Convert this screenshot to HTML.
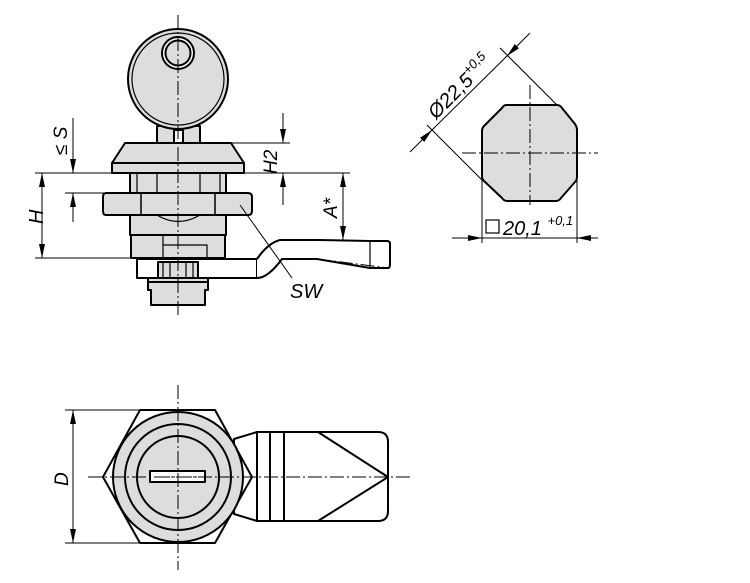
<!DOCTYPE html>
<html><head><meta charset="utf-8"><style>
html,body{margin:0;padding:0;background:#fff;width:750px;height:583px;overflow:hidden}
text{font-family:"Liberation Sans",sans-serif;font-style:italic;fill:#000}
</style></head><body>
<svg width="750" height="583" viewBox="0 0 750 583" xmlns="http://www.w3.org/2000/svg">
<defs>
<marker id="a" viewBox="0 0 14 6" refX="14" refY="3" markerWidth="14" markerHeight="6" orient="auto-start-reverse" markerUnits="userSpaceOnUse"><path d="M0,0L14,3L0,6z" fill="#000"/></marker>
</defs>
<g stroke="#000" stroke-width="2" fill="#ddd" stroke-linejoin="round">
<path d="M157,126 L157,143 L200,143 L200,126 Z"/>
<circle cx="178" cy="79" r="50"/>
<circle cx="178" cy="79" r="46" fill="none" stroke-width="1.2"/>
<circle cx="178" cy="53" r="16" fill="#fff"/>
<circle cx="178" cy="53" r="12.5"/>
<rect x="174" y="130" width="9" height="13" fill="#fff"/>
<path d="M125,143 L231,143 L244,163 L112,163 Z"/>
<rect x="112" y="163" width="132" height="10"/>
<rect x="130" y="173" width="96" height="22"/>
<path d="M137,173V195M157,173V195M200,173V195M220,173V195" fill="none" stroke-width="1.2"/>
<path d="M137,259H257V278H137Z" fill="#fff"/>
<path d="M257,278 Q268,278 282,259 L317,259 L370,268 L388,268 Q390,268 390,264 L390,244 Q390,241 387,241 L370,241 L320,240 L280,240 Q268,243 257,259" fill="#fff"/>
<path d="M370,241V268" fill="none" stroke-width="1.2"/>
<rect x="130" y="215" width="96" height="20"/>
<path d="M157,215 Q178,228 200,215" fill="none" stroke-width="1.2"/>
<rect x="131" y="235" width="94" height="23"/>
<path d="M163,235V258M163,245H207V258" fill="none" stroke-width="1.2"/>
<path d="M106,193H248Q252,193 252,197V211Q252,215 248,215H106Q103,215 103,211V197Q103,193 106,193Z"/>
<path d="M141,193V215M215,193V215" fill="none" stroke-width="1.5"/>
<rect x="148" y="278" width="60" height="4"/>
<rect x="158" y="262" width="40" height="16"/>
<path d="M163,262V278M170,262V278M186,262V278M193,262V278" fill="none" stroke-width="1.2"/>
<path d="M148,282H208V290H205V305H151V290H148Z"/>
<path d="M506,105H557Q560,105 562,108L575,124Q577,127 577,130V177Q577,180 575,182L561,198Q559,201 556,201H507Q504,201 502,198L484,181Q482,179 482,176V131Q482,128 484,126L502,108Q504,105 506,105Z"/>
<path d="M234,439L257,432V521L234,514Z" fill="#fff"/>
<path d="M257,432H378Q388,432 388,442V511Q388,521 378,521H257Z" fill="#fff"/>
<path d="M270,432V521M284,432V521M318,432L388,477L318,521" fill="none"/>
<path d="M103,477L140,410H215L252,477L215,543H140Z" fill="#fff"/>
<circle cx="178" cy="477" r="65"/>
<circle cx="178" cy="477" r="53" fill="none"/>
<circle cx="178" cy="477" r="41" fill="none"/>
<rect x="150" y="471" width="55" height="11" fill="#fff"/>
</g>
<g stroke="#000" stroke-width="1" fill="none" stroke-dasharray="14,3,2,3">
<path d="M178,15V318"/>
<path d="M530,85V205M462,153H598"/>
<path d="M178,385V570M88,477H412"/>
<path d="M320,240L388,241M317,259L388,268"/>
<path d="M156,477H200"/>
</g>
<g stroke="#000" stroke-width="1" fill="none">
<path d="M35,173H350M35,258H130M65,193H130M230,143H290"/>
<path d="M42,173V258" marker-start="url(#a)" marker-end="url(#a)"/>
<path d="M73,118V173" marker-end="url(#a)"/>
<path d="M73,222V193" marker-end="url(#a)"/>
<path d="M283,113V143" marker-end="url(#a)"/>
<path d="M283,205V173" marker-end="url(#a)"/>
<path d="M343,173V240" marker-start="url(#a)" marker-end="url(#a)"/>
<path d="M240,205L292,278"/>
<path d="M427,125L482,180M500,48L557,105"/>
<path d="M410,152L432,130" marker-end="url(#a)"/>
<path d="M530,33L507,56" marker-end="url(#a)"/>
<path d="M432,130L507,56"/>
<path d="M482,180V243M577,180V243"/>
<path d="M452,238H482" marker-end="url(#a)"/>
<path d="M598,238H577" marker-end="url(#a)"/>
<path d="M482,238H577"/>
<path d="M65,410H140M65,543H140"/>
<path d="M73,410V543" marker-start="url(#a)" marker-end="url(#a)"/>
</g>
<text transform="translate(43,224) rotate(-90)" font-size="20">H</text>
<text transform="translate(67,155) rotate(-90)" font-size="19">≤ S</text>
<text transform="translate(277,174) rotate(-90)" font-size="19">H2</text>
<text transform="translate(337,218) rotate(-90)" font-size="19">A*</text>
<text x="290" y="298" font-size="20">SW</text>
<text transform="translate(436,120) rotate(-45)" font-size="20">Ø22,5<tspan font-size="13" dy="-9">+0,5</tspan></text>
<text x="503" y="235" font-size="20">20,1 <tspan font-size="13" dy="-10">+0,1</tspan></text>
<rect x="486" y="220" width="13" height="13" fill="none" stroke="#000" stroke-width="1.2"/>
<text transform="translate(68,486) rotate(-90)" font-size="19">D</text>
</svg>
</body></html>
